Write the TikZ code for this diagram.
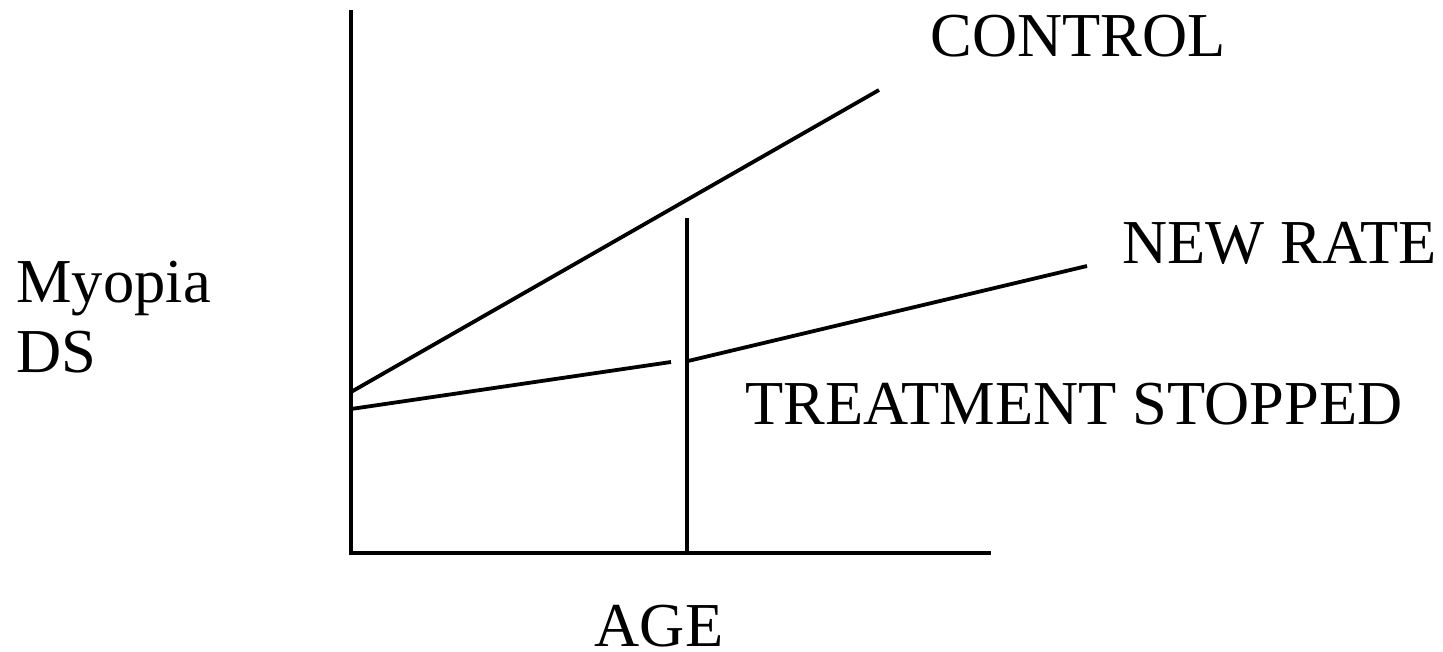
\documentclass[tikz,border=0pt]{standalone}
\usepackage{fontspec}
\setmainfont{Liberation Serif}

\tikzset{
  axisline/.style={line width=1.9pt},
  label/.style={inner sep=0pt, anchor=base west, font=\fontsize{31.25}{35}\selectfont}
}

\begin{document}
\begin{tikzpicture}[x=0.5pt, y=-0.5pt]
\useasboundingbox (0,0) rectangle (1443,652);

\coordinate (origin) at (351,553);
\coordinate (ytop) at (351,10);
\coordinate (xend) at (991,553);
\coordinate (ctlstart) at (351,392);
\coordinate (ctlend) at (879,90);
\coordinate (newstart) at (351,409);
\coordinate (gapleft) at (671,362);
\coordinate (gapright) at (688,361);
\coordinate (newend) at (1087,266);
\coordinate (stoptop) at (687,218);
\coordinate (stopbot) at (687,553);

\draw[axisline] (ytop) -- (origin) -- (xend);
\draw[axisline] (ctlstart) -- (ctlend);
\draw[axisline] (newstart) -- (gapleft);
\draw[axisline] (gapright) -- (newend);
\draw[axisline] (stoptop) -- (stopbot);

\node[label] (control) at (930,57) {CONTROL};
\node[label] (newrate) at (1122,263) {NEW RATE};
\node[label] (myopia) at (16,302) {Myopia};
\node[label] (ds) at (16,372) {DS};
\node[label] (stopped) at (745,424) {TREATMENT STOPPED};
\node[label, anchor=base] (age) at (659,646) {AGE};
\end{tikzpicture}
\end{document}
